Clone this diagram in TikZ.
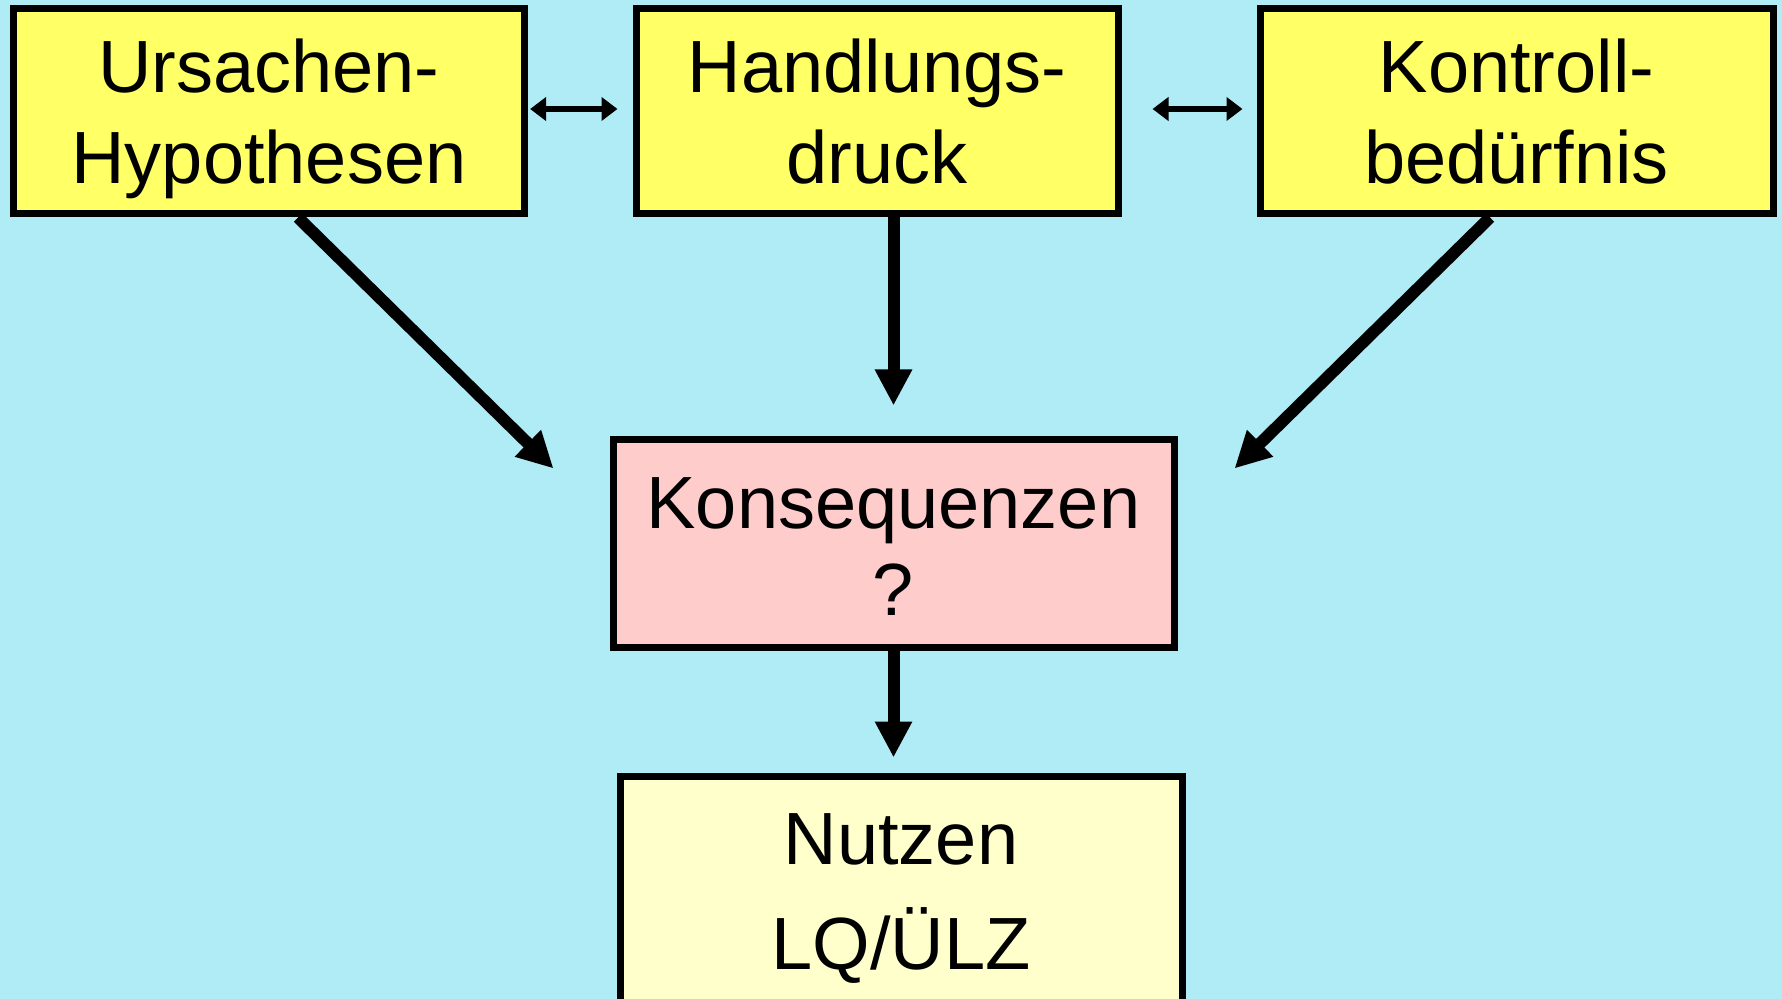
\documentclass[tikz,border=0pt]{standalone}
\usepackage{fontspec}
\setmainfont{Liberation Sans}
\usetikzlibrary{arrows.meta,calc}
\definecolor{bg}{RGB}{176,236,246}
\definecolor{ybox}{RGB}{255,255,102}
\definecolor{pbox}{RGB}{255,204,204}
\definecolor{lybox}{RGB}{255,255,204}
\begin{document}
\begin{tikzpicture}[x=0.5pt,y=-0.5pt,
  box/.style={draw=black,line width=3.5pt,rectangle,inner sep=0pt,align=center},
  topbox/.style={box,fill=ybox,minimum height=102.5pt,text height=82.5pt,text depth=10pt,
    font=\fontsize{37}{45.5}\selectfont},
  bigarrow/.style={line width=6pt,-{Triangle[length=18pt,width=17.5pt]}},
  dblarrow/.style={line width=3pt,{Triangle[length=8pt,width=11.5pt]}-{Triangle[length=8pt,width=11.5pt]}}]
\fill[bg] (0,0) rectangle (1782,999);
\useasboundingbox (0,0) rectangle (1782,999);
\clip (0,0) rectangle (1782,999);
\node[topbox,minimum width=255.6pt] (u) at (269,111.5) {Ursachen-\\Hypothesen};
\node[topbox,minimum width=241pt] (h) at (877,111.5) {Handlungs-\\druck};
\node[topbox,minimum width=256.5pt] (c) at (1516.5,111.5) {Kontroll-\\bedürfnis};
\node[box,fill=pbox,minimum width=280.5pt,minimum height=103.5pt,text height=81.5pt,text depth=10pt,
  font=\fontsize{37}{43.5}\selectfont] (k) at (893.5,543.5) {Konsequenzen\\?};
\node[box,fill=lybox,minimum width=281pt,minimum height=127pt,text height=76pt,text depth=10pt,
  font=\fontsize{37}{52.5}\selectfont] (n) at (901,903) {Nutzen\\LQ/ÜLZ};
\draw[dblarrow] ($(u.east)+(2,-2.5)$) -- ($(h.west)+(-15,-2.5)$);
\draw[dblarrow] ($(h.east)+(31,-2.5)$) -- ($(c.west)+(-14,-2.5)$);
\draw[bigarrow] ($(u.south)+(29,0)$) -- ($(k.north west)+(-56,32)$);
\draw[bigarrow] (h.south -| k.north) -- ($(k.north)+(0,-31)$);
\draw[bigarrow] ($(c.south)+(-26.5,0)$) -- ($(k.north east)+(57,32)$);
\draw[bigarrow] (k.south) -- ($(k.south |- n.north)+(0,-15)$);
\end{tikzpicture}
\end{document}
